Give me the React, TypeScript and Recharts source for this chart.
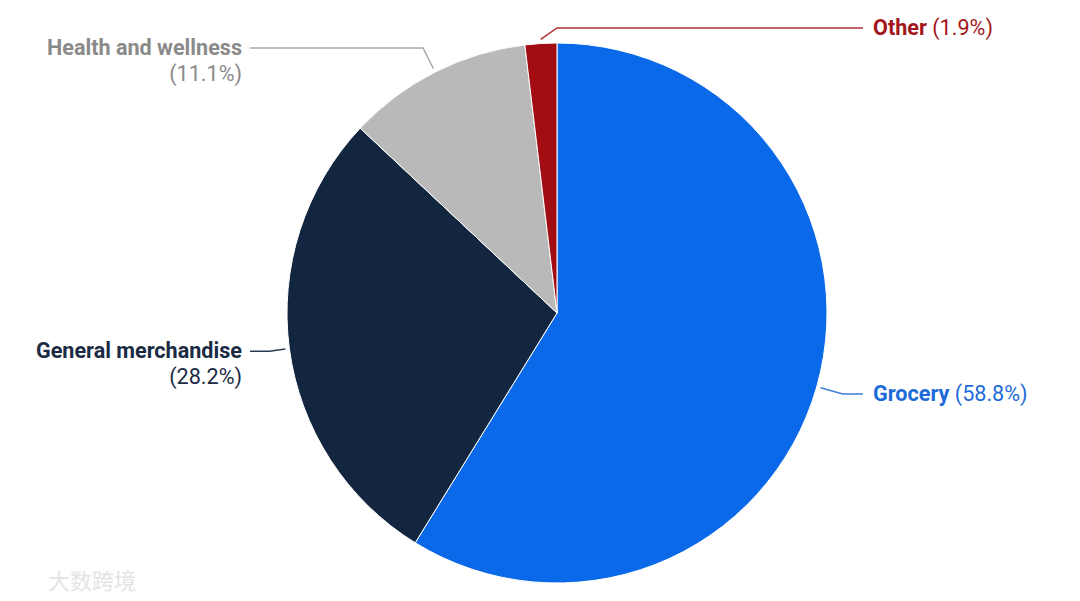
import { PieChart, Pie, Cell } from "recharts";

const categories = ["Grocery", "General merchandise", "Health and wellness", "Other"];
const shares = [58.8, 28.2, 11.1, 1.9];
const sliceColors = ["#0a69e8", "#12263f", "#b9b9b9", "#a10d12"];
const labelColors = ["#1d6bd9", "#1b2b44", "#8a8a8a", "#a3161b"];
const lineColors = ["#3d7fdb", "#2a3a52", "#a8a8a8", "#b03036"];
const labelSide = ["right", "left", "left", "right"];

const data = categories.map((name, i) => ({ name, value: shares[i] }));

const RADIAN = Math.PI / 180;

// elbow distance outside the pie, per slice; Other bends toward the top
const elbowOffset = [27, 20, 27, 15];
const elbowAngle: (number | null)[] = [null, null, null, 90];

function renderLabel(props: any) {
  const { cx, cy, midAngle, outerRadius, index } = props;
  const cos = Math.cos(-midAngle * RADIAN);
  const sin = Math.sin(-midAngle * RADIAN);
  const r0 = outerRadius + 4;
  const r1 = outerRadius + elbowOffset[index];
  const sx = cx + r0 * cos;
  const sy = cy + r0 * sin;
  const ea = elbowAngle[index] ?? midAngle;
  const ex = cx + r1 * Math.cos(-ea * RADIAN);
  const ey = cy + r1 * Math.sin(-ea * RADIAN);
  const right = labelSide[index] === "right";
  const lx = right ? cx + 306 : cx - 307;
  const tx = right ? lx + 10 : lx - 8;
  const color = labelColors[index];
  const pct = `(${shares[index].toFixed(1)}%)`;

  return (
    <g key={`lbl-${index}`}>
      <path
        d={`M${sx},${sy} L${ex},${ey} L${lx},${ey}`}
        stroke={lineColors[index]}
        strokeWidth={1.5}
        fill="none"
      />
      {right ? (
        <text x={tx} y={ey} dy={7} textAnchor="start" fill={color} fontSize={21.6}>
          <tspan fontWeight={700}>{categories[index]}</tspan>
          <tspan fontWeight={400}> {pct}</tspan>
        </text>
      ) : (
        <text x={tx} y={ey} textAnchor="end" fill={color} fontSize={21.6}>
          <tspan x={tx} dy={7} fontWeight={700}>{categories[index]}</tspan>
          <tspan x={tx} dy={26} fontWeight={400}>{pct}</tspan>
        </text>
      )}
    </g>
  );
}

export default function App() {
  return (
    <div
      style={{
        position: "absolute",
        left: 0,
        top: 0,
        width: 1080,
        height: 601,
        background: "#ffffff",
        fontFamily: "Roboto, 'Noto Sans', sans-serif",
      }}
    >
      <PieChart width={1080} height={601} margin={{ top: 0, right: 0, bottom: 0, left: 0 }}>
        <Pie
          data={data}
          dataKey="value"
          nameKey="name"
          cx={557}
          cy={313}
          outerRadius={270}
          startAngle={90}
          endAngle={-270}
          stroke="#ffffff"
          strokeWidth={1}
          labelLine={false}
          label={renderLabel}
          isAnimationActive={false}
        >
          {data.map((d, i) => (
            <Cell key={d.name} fill={sliceColors[i]} />
          ))}
        </Pie>
        <text
          x={48}
          y={589}
          fill="#e4e4e4"
          fontSize={22}
          fontFamily="'Noto Sans CJK SC', sans-serif"
        >
          大数跨境
        </text>
      </PieChart>
    </div>
  );
}
